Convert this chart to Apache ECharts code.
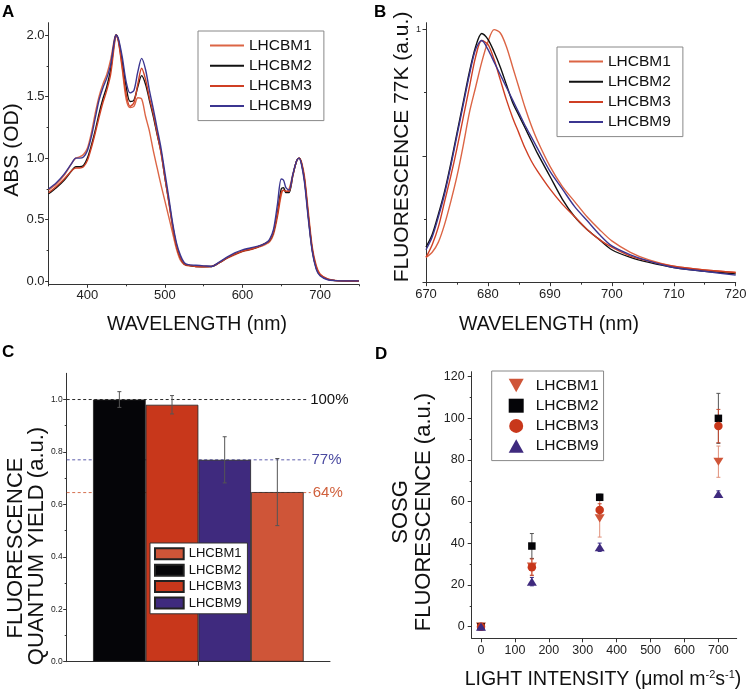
<!DOCTYPE html>
<html>
<head>
<meta charset="utf-8">
<script src="https://cdn.jsdelivr.net/npm/echarts@6/dist/echarts.min.js"></script>
<style>
html,body{margin:0;padding:0;background:#fff;}
#chart{width:747px;height:693px;}
</style>
</head>
<body>
<div id="chart"></div>
<script>
//数据 - A 吸收光谱
var waveA=[350,360,370,380,385,390,395,400,405,410,415,420,425,430,435,437,440,445,450,455,460,465,470,475,480,485,490,495,500,505,510,515,520,525,530,540,550,560,570,580,590,600,610,620,630,635,640,645,650,653,656,660,665,670,673,676,680,685,690,695,700,710,720,735,750];
var absM1=[0.74,0.79,0.86,0.96,1.00,1.01,1.03,1.08,1.20,1.36,1.50,1.60,1.68,1.80,1.97,2.00,1.95,1.72,1.48,1.41,1.42,1.49,1.48,1.34,1.22,1.06,0.92,0.78,0.65,0.52,0.39,0.26,0.17,0.135,0.125,0.12,0.115,0.12,0.15,0.185,0.215,0.24,0.255,0.275,0.30,0.32,0.38,0.52,0.70,0.74,0.73,0.75,0.87,0.98,1.00,0.97,0.85,0.56,0.28,0.13,0.06,0.018,0.006,0.003,0.003];
var absM2=[0.71,0.76,0.82,0.90,0.93,0.93,0.94,1.00,1.10,1.22,1.36,1.48,1.58,1.72,1.95,2.00,1.96,1.78,1.58,1.46,1.47,1.58,1.67,1.60,1.47,1.34,1.19,1.05,0.84,0.65,0.45,0.29,0.19,0.14,0.13,0.12,0.12,0.12,0.15,0.19,0.22,0.245,0.26,0.28,0.31,0.33,0.40,0.55,0.75,0.76,0.72,0.72,0.86,0.98,1.00,0.96,0.82,0.52,0.25,0.11,0.05,0.015,0.005,0.002,0.002];
var absM3=[0.72,0.77,0.83,0.90,0.92,0.92,0.93,0.98,1.08,1.20,1.33,1.45,1.55,1.68,1.93,2.00,1.95,1.74,1.52,1.42,1.45,1.60,1.73,1.64,1.49,1.36,1.20,1.04,0.84,0.64,0.44,0.28,0.19,0.14,0.13,0.12,0.12,0.12,0.15,0.19,0.22,0.245,0.26,0.28,0.31,0.33,0.40,0.54,0.72,0.74,0.73,0.73,0.86,0.98,1.00,0.96,0.83,0.53,0.26,0.12,0.055,0.016,0.005,0.002,0.002];
var absM9=[0.75,0.80,0.87,0.96,1.00,1.00,1.01,1.06,1.17,1.32,1.47,1.57,1.65,1.76,1.96,2.00,1.97,1.82,1.62,1.53,1.55,1.70,1.81,1.72,1.55,1.40,1.24,1.08,0.88,0.68,0.47,0.31,0.21,0.15,0.135,0.13,0.125,0.12,0.155,0.195,0.23,0.255,0.27,0.285,0.31,0.34,0.42,0.62,0.83,0.82,0.76,0.74,0.87,0.98,1.00,0.95,0.80,0.50,0.24,0.10,0.045,0.012,0.005,0.003,0.003];

//数据 - B 77K荧光
var waveB=[670,671,672,673,674,675,676,677,678,679,680,681,682,683,684,685,686,687,688,690,692,694,696,698,700,703,706,710,715,720];
var fluM1=[0.10,0.12,0.16,0.23,0.32,0.42,0.54,0.67,0.77,0.87,0.95,0.998,0.985,0.93,0.85,0.77,0.69,0.62,0.56,0.46,0.38,0.32,0.26,0.21,0.165,0.12,0.09,0.065,0.05,0.04];
var fluM2=[0.14,0.19,0.27,0.36,0.47,0.59,0.71,0.83,0.93,0.983,0.96,0.91,0.85,0.78,0.71,0.66,0.61,0.56,0.51,0.42,0.33,0.26,0.21,0.17,0.13,0.10,0.08,0.06,0.045,0.035];
var fluM3=[0.10,0.15,0.22,0.32,0.42,0.53,0.65,0.77,0.89,0.955,0.94,0.88,0.80,0.72,0.65,0.59,0.53,0.48,0.44,0.37,0.31,0.26,0.21,0.17,0.14,0.105,0.085,0.065,0.05,0.04];
var fluM9=[0.13,0.18,0.26,0.35,0.46,0.58,0.70,0.82,0.92,0.955,0.92,0.87,0.82,0.77,0.72,0.67,0.62,0.575,0.53,0.44,0.37,0.30,0.245,0.19,0.145,0.11,0.085,0.06,0.045,0.03];

//数据 - C 量子产率
var qyNames=['LHCBM2','LHCBM3','LHCBM9','LHCBM1'];
var qyValues=[1.0,0.98,0.77,0.647];
var qyErrors=[0.03,0.035,0.088,0.128];
var refValues=[1.0,0.77,0.645];
var refLabels=['100%','77%','64%'];

//数据 - D SOSG
var lightX=[0,150,350,700];
var sosgM1=[0,28.8,52,79.2];
var sosgM2=[0,38.7,62.1,100];
var sosgM3=[0,28.5,56,96.3];
var sosgM9=[0,21.6,38.1,63.7];
var errM1=[1,4,9,7.5];
var errM2=[0.5,6,1.5,12];
var errM3=[0.5,4,3,8];
var errM9=[0.5,2,2,1.5];

//刻度
var ticksAx=[400,500,600,700], minorAx=[350,450,550,650,750];
var ticksAy=[0,0.5,1,1.5,2], minorAy=[0.25,0.75,1.25,1.75];
var ticksBx=[670,680,690,700,710,720], minorBx=[675,685,695,705,715];
var ticksBy=[0,0.5,1], minorBy=[0.25,0.75];
var ticksCy=[0,0.2,0.4,0.6,0.8,1.0], minorCy=[0.1,0.3,0.5,0.7,0.9];
var ticksDx=[0,100,200,300,400,500,600,700];
var ticksDy=[0,20,40,60,80,100,120], minorDy=[10,30,50,70,90,110];

var FONT='"Liberation Sans", Arial, Helvetica, sans-serif';
var names=['LHCBM1','LHCBM2','LHCBM3','LHCBM9'];
var lineCol={LHCBM1:'#dc6545',LHCBM2:'#111111',LHCBM3:'#cf3f24',LHCBM9:'#3b3590'};
var barCol={LHCBM1:'#cf5538',LHCBM2:'#050508',LHCBM3:'#c8371b',LHCBM9:'#3f2a7e'};
var refCol=['#111111','#4a4aa0','#d0603c'];
var errCol={LHCBM1:'#e0907a',LHCBM2:'#555555',LHCBM3:'#c44a30',LHCBM9:'#3b2f86'};

function pairs(xs,ys){
    return xs.map(function(x,i){return [x,ys[i]];});
}

//主轴
function mainAxis(o){
    return {
        type:'value',gridIndex:o.grid,position:o.pos,min:o.min,max:o.max,
        axisLine:{show:true,onZero:false,lineStyle:{color:'#333',width:1}},
        axisTick:{show:true,length:o.tickLen||3.5,customValues:o.ticks,lineStyle:{color:'#333'}},
        axisLabel:{show:true,customValues:o.labels||o.ticks,formatter:o.fmt,fontSize:o.fs,margin:o.margin,color:'#222',fontFamily:FONT},
        splitLine:{show:false}
    };
}
//次刻度
function minorAxis(o){
    return {
        type:'value',gridIndex:o.grid,position:o.pos,min:o.min,max:o.max,
        axisLine:{show:false,onZero:false},
        axisTick:{show:true,length:2,customValues:o.ticks,lineStyle:{color:'#333'}},
        axisLabel:{show:false},
        splitLine:{show:false}
    };
}

var fmt1=function(v){return v.toFixed(1);};

var xAxis=[
    mainAxis({grid:0,pos:'bottom',min:350,max:750,ticks:ticksAx,fs:13,margin:5}),
    minorAxis({grid:0,pos:'bottom',min:350,max:750,ticks:minorAx}),
    mainAxis({grid:1,pos:'bottom',min:670,max:720,ticks:ticksBx,fs:13,margin:5}),
    minorAxis({grid:1,pos:'bottom',min:670,max:720,ticks:minorBx}),
    {
        type:'category',gridIndex:2,position:'bottom',data:[''],
        axisLine:{show:true,onZero:false,lineStyle:{color:'#333'}},
        axisTick:{show:true,alignWithLabel:true,length:4,lineStyle:{color:'#333'}},
        axisLabel:{show:false},splitLine:{show:false}
    },
    mainAxis({grid:3,pos:'bottom',min:-27.4,max:754,ticks:ticksDx,fs:12.5,margin:6,tickLen:4})
];
var yAxis=[
    mainAxis({grid:0,pos:'left',min:-0.025,max:2.1,ticks:ticksAy,fmt:fmt1,fs:13,margin:4}),
    minorAxis({grid:0,pos:'left',min:-0.025,max:2.1,ticks:minorAy}),
    mainAxis({grid:1,pos:'left',min:0,max:1.0255,ticks:ticksBy,labels:[1],fmt:function(v){return String(v);},fs:9,margin:5}),
    minorAxis({grid:1,pos:'left',min:0,max:1.0255,ticks:minorBy}),
    mainAxis({grid:2,pos:'left',min:0,max:1.1,ticks:ticksCy,fmt:fmt1,fs:8.5,margin:4}),
    minorAxis({grid:2,pos:'left',min:0,max:1.1,ticks:minorCy}),
    mainAxis({grid:3,pos:'left',min:-5.6,max:122.4,ticks:ticksDy,fs:12.5,margin:7,tickLen:4}),
    minorAxis({grid:3,pos:'left',min:-5.6,max:122.4,ticks:minorDy})
];

var series=[];
var absData={LHCBM1:absM1,LHCBM2:absM2,LHCBM3:absM3,LHCBM9:absM9};
var fluData={LHCBM1:fluM1,LHCBM2:fluM2,LHCBM3:fluM3,LHCBM9:fluM9};
names.forEach(function(n){
    series.push({
        name:'A:'+n,type:'line',xAxisIndex:0,yAxisIndex:0,symbol:'none',smooth:0.3,
        lineStyle:{color:lineCol[n],width:1.4},itemStyle:{color:lineCol[n]},
        data:pairs(waveA,absData[n])
    });
});
names.forEach(function(n){
    series.push({
        name:'B:'+n,type:'line',xAxisIndex:2,yAxisIndex:2,symbol:'none',smooth:0.3,
        lineStyle:{color:lineCol[n],width:1.4},itemStyle:{color:lineCol[n]},
        data:pairs(waveB,fluData[n])
    });
});

//C 参考虚线
series.push({
    type:'custom',xAxisIndex:4,yAxisIndex:4,z:1,silent:true,
    data:refValues.map(function(v,i){return [0,v,i];}),
    renderItem:function(params,api){
        var cs=params.coordSys;
        var i=api.value(2);
        var y=api.coord([0,api.value(1)])[1];
        var x2=cs.x+cs.width*(0.917+i*0.005);
        return {type:'group',children:[
            {type:'line',shape:{x1:cs.x,y1:y,x2:x2,y2:y},style:{stroke:refCol[i],lineWidth:0.9,lineDash:[3,2.5]}},
            {type:'text',x:x2+2,y:y,style:{text:refLabels[i],fill:refCol[i],font:'15px '+FONT,align:'left',verticalAlign:'middle'}}
        ]};
    }
});
//C 柱
qyNames.forEach(function(n,i){
    series.push({
        name:'C:'+n,type:'bar',xAxisIndex:4,yAxisIndex:4,z:2,
        barGap:'0%',barCategoryGap:'20%',
        itemStyle:{color:barCol[n],borderColor:'#222',borderWidth:0.8},
        data:[qyValues[i]]
    });
});
//C 误差线
series.push({
    type:'custom',xAxisIndex:4,yAxisIndex:4,z:3,silent:true,
    data:qyValues.map(function(v,i){return [0,v,qyErrors[i],i];}),
    renderItem:function(params,api){
        var band=api.size([1,0])[0];
        var v=api.value(1),e=api.value(2),slot=api.value(3);
        var top=api.coord([0,v+e]),bot=api.coord([0,v-e]);
        var cx=top[0]+(slot-1.5)*band*0.2;
        var st={stroke:'#555',lineWidth:1};
        return {type:'group',children:[
            {type:'line',shape:{x1:cx,y1:top[1],x2:cx,y2:bot[1]},style:st},
            {type:'line',shape:{x1:cx-2,y1:top[1],x2:cx+2,y2:top[1]},style:st},
            {type:'line',shape:{x1:cx-2,y1:bot[1],x2:cx+2,y2:bot[1]},style:st}
        ]};
    }
});

//D 误差线
var sosgData={LHCBM1:sosgM1,LHCBM2:sosgM2,LHCBM3:sosgM3,LHCBM9:sosgM9};
var sosgErr={LHCBM1:errM1,LHCBM2:errM2,LHCBM3:errM3,LHCBM9:errM9};
var errData=[];
names.forEach(function(n,k){
    lightX.forEach(function(x,i){errData.push([x,sosgData[n][i],sosgErr[n][i],k]);});
});
series.push({
    type:'custom',xAxisIndex:5,yAxisIndex:6,z:1,silent:true,data:errData,
    renderItem:function(params,api){
        var x=api.value(0),v=api.value(1),e=api.value(2),k=api.value(3);
        var top=api.coord([x,v+e]),bot=api.coord([x,v-e]);
        var st={stroke:errCol[names[k]],lineWidth:1};
        return {type:'group',children:[
            {type:'line',shape:{x1:top[0],y1:top[1],x2:bot[0],y2:bot[1]},style:st},
            {type:'line',shape:{x1:top[0]-2,y1:top[1],x2:top[0]+2,y2:top[1]},style:st},
            {type:'line',shape:{x1:bot[0]-2,y1:bot[1],x2:bot[0]+2,y2:bot[1]},style:st}
        ]};
    }
});
var symD={LHCBM1:'path://M0,0L10,0L5,9Z',LHCBM2:'rect',LHCBM3:'circle',LHCBM9:'path://M5,0L10,9L0,9Z'};
var sizeD={LHCBM1:[10,9],LHCBM2:7.5,LHCBM3:8.5,LHCBM9:[10,9]};
names.forEach(function(n){
    series.push({
        name:'D:'+n,type:'scatter',xAxisIndex:5,yAxisIndex:6,z:2,
        symbol:symD[n],symbolSize:sizeD[n],symbolKeepAspect:true,
        itemStyle:{color:barCol[n],opacity:1},
        data:pairs(lightX,sosgData[n])
    });
});

var stripName=function(n){return n.split(':')[1];};
var legendText={fontSize:15.5,color:'#111',fontFamily:FONT};
var legend=[
    {left:198,top:31,orient:'vertical',data:names.map(function(n){return 'A:'+n;}),formatter:stripName,
     itemWidth:34,itemHeight:14,itemGap:4.2,padding:[6.5,12,6.5,11],borderColor:'#888',borderWidth:1,
     itemStyle:{opacity:0},textStyle:legendText},
    {left:557,top:47,orient:'vertical',data:names.map(function(n){return 'B:'+n;}),formatter:stripName,
     itemWidth:34,itemHeight:14,itemGap:4.2,padding:[6.5,12,6.5,11],borderColor:'#888',borderWidth:1,
     itemStyle:{opacity:0},textStyle:legendText},
    {left:150,top:543,orient:'vertical',data:names.map(function(n){return {name:'C:'+n,icon:'rect'};}),formatter:stripName,
     itemWidth:28.7,itemHeight:11,itemGap:3.4,padding:[4.3,6,4.3,4],borderColor:'#333',borderWidth:1,backgroundColor:'#fff',
     textStyle:{fontSize:13,color:'#111',fontFamily:FONT}},
    {left:491.7,top:371,orient:'vertical',data:names.map(function(n){return 'D:'+n;}),formatter:stripName,
     itemWidth:15,itemHeight:14,itemGap:4.2,padding:[6.5,5,6.5,17],borderColor:'#888',borderWidth:1,
     textStyle:{fontSize:15.5,color:'#111',fontFamily:FONT,padding:[0,0,0,7]}}
];

//标题文字
function vtext(x,y,txt,fs){
    return {type:'text',x:x,y:y,rotation:Math.PI/2,silent:true,
        style:{text:txt,font:fs+'px '+FONT,fill:'#111',align:'center',verticalAlign:'middle'}};
}
function htext(x,y,txt,fs){
    return {type:'text',x:x,y:y,silent:true,
        style:{text:txt,font:fs+'px '+FONT,fill:'#111',align:'center',verticalAlign:'middle'}};
}
function panel(x,y,txt){
    return {type:'text',x:x,y:y,silent:true,
        style:{text:txt,font:'bold 17px '+FONT,fill:'#000',align:'left',verticalAlign:'top'}};
}
var graphic=[
    panel(2,4,'A'),panel(374,4,'B'),panel(2,344,'C'),panel(375,346,'D'),
    vtext(12,150,'ABS (OD)',21),
    htext(197,325,'WAVELENGTH (nm)',19.5),
    vtext(402.5,147,'FLUORESCENCE 77K (a.u.)',21),
    htext(549,325,'WAVELENGTH (nm)',19.5),
    vtext(15.5,548,'FLUORESCENCE',22),
    vtext(37,546,'QUANTUM YIELD (a.u.)',22),
    vtext(400.7,512,'SOSG',22),
    vtext(424,512,'FLUORESCENCE (a.u.)',22),
    {type:'text',x:603,y:680,silent:true,
     style:{text:'{a|LIGHT INTENSITY (μmol m}{b|-2}{a|s}{b|-1}{a|)}',align:'center',verticalAlign:'middle',
        rich:{a:{fontSize:19.5,fontFamily:FONT,fill:'#111',color:'#111'},
              b:{fontSize:11,fontFamily:FONT,fill:'#111',color:'#111',verticalAlign:'top',padding:[0,0,10,0]}}}}
];

var grids=[
    {left:48.6,top:22.7,width:310.2,height:261.6},
    {left:426,top:22.7,width:309.7,height:260},
    {left:66.7,top:373.3,width:263.3,height:288.4},
    {left:471.7,top:371.7,width:265,height:266.6}
].map(function(g){g.containLabel=false;g.outerBoundsMode='none';return g;});

var myChart=echarts.init(document.getElementById('chart'),null,{renderer:'canvas'});
var option={
    animation:false,
    backgroundColor:'#fff',
    textStyle:{fontFamily:FONT},
    grid:grids,
    xAxis:xAxis,
    yAxis:yAxis,
    legend:legend,
    graphic:graphic,
    series:series
};
myChart.setOption(option);
</script>
</body>
</html>
